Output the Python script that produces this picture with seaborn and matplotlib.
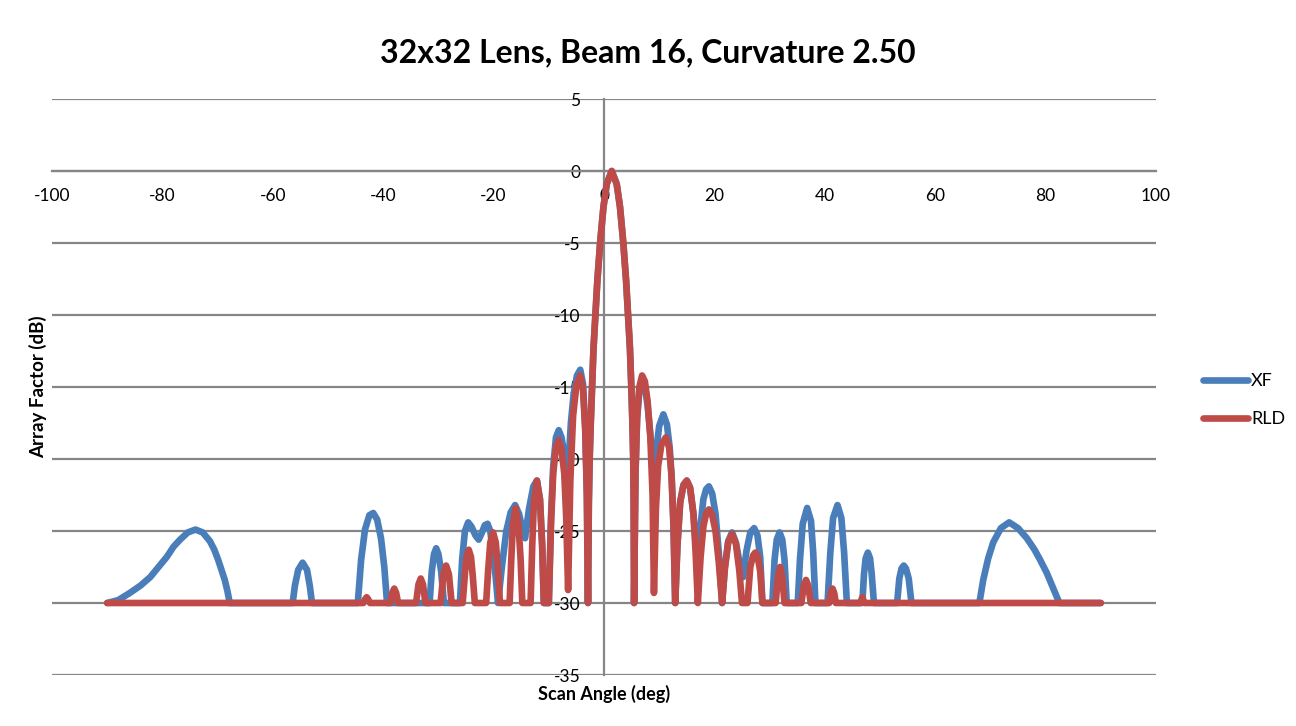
import matplotlib
matplotlib.use("Agg")
import matplotlib.pyplot as plt
import seaborn as sns
import pandas as pd

# ---------------- data ----------------
series_names = ["XF", "RLD"]

xf_angle = [
    -90, -88.0, -85.9, -84.0, -82.2, -80.7, -79.2, -78.0, -76.8, -75.4, -74.0, -72.7, -71.4, -70.6, -69.9, -69.3, -68.7, -68.2, -67.8,
    -56.4, -56.0, -55.4, -54.6, -53.8, -53.3, -52.9,
    -44.6, -44.0, -43.3, -42.5, -41.8, -41.1, -40.4, -39.8, -39.3,
    -31.6, -31.2, -30.8, -30.4, -30.0, -29.5, -29.0,
    -26.1, -25.7, -25.2, -24.6, -24.0, -23.3, -22.7, -22.1, -21.6, -21.1, -20.6, -20.1, -19.6, -19.2,
    -18.5, -17.7, -16.9, -16.1, -15.4, -14.8, -14.3,
    -13.6, -12.8, -12.15, -11.6, -11.2, -10.9,
    -10.0, -9.6, -9.2, -8.7, -8.2, -7.7, -7.2, -6.8, -6.5,
    -6.0, -5.5, -4.9, -4.3, -3.8, -3.4, -3.1, -2.9,
    -2.75, -2.6, -2.4, -2.15, -1.9, -1.55, -1.2, -0.7, -0.1, 0.5, 1.4, 2.3, 2.9, 3.5, 4.0, 4.35, 4.7, 4.95, 5.15, 5.3, 5.38, 5.45,
    5.7, 6.0, 6.4, 6.9, 7.4, 7.9, 8.4, 8.8, 9.1,
    9.5, 10.0, 10.75, 11.4, 11.9, 12.3, 12.6, 12.9,
    13.3, 13.8, 14.4, 15.0, 15.6, 16.2, 16.6, 17.0,
    17.5, 18.0, 18.5, 19.0, 19.6, 20.2, 20.8, 21.4,
    21.9, 22.5, 23.2, 23.9, 24.6, 25.2,
    25.8, 26.5, 27.2, 27.8, 28.3, 28.7,
    30.5, 30.9, 31.3, 31.8, 32.3, 32.7, 33.1,
    35.1, 35.5, 36.0, 36.8, 37.5, 37.9, 38.3,
    40.5, 41.0, 41.5, 42.3, 43.0, 43.5, 44.0,
    46.8, 47.1, 47.4, 47.8, 48.2, 48.5, 48.9,
    53.1, 53.5, 53.9, 54.3, 54.7, 55.2, 55.7,
    68.0, 68.7, 69.6, 70.5, 71.9, 73.4, 75.0, 76.6, 78.0, 79.0, 80.2, 81.3, 82.5,
    90,
]
xf_db = [
    -30, -29.8, -29.3, -28.8, -28.2, -27.5, -26.8, -26.1, -25.6, -25.1, -24.9, -25.1, -25.7, -26.3, -27.0, -27.7, -28.4, -29.2, -30,
    -30, -28.8, -27.7, -27.2, -27.7, -28.8, -30,
    -30, -27.0, -24.9, -23.9, -23.75, -24.2, -25.5, -27.5, -30,
    -30, -27.8, -26.6, -26.2, -26.6, -27.8, -30,
    -30, -27.0, -25.0, -24.4, -24.7, -25.3, -25.6, -25.1, -24.6, -24.5, -25.0, -26.5, -28.3, -30,
    -27.5, -25.0, -23.7, -23.2, -23.8, -24.8, -25.5,
    -23.5, -21.9, -21.5, -22.8, -26.0, -30,
    -30, -24.0, -20.5, -18.5, -18.0, -18.5, -19.6, -20.5, -20.8,
    -17.5, -15.5, -14.2, -13.8, -14.8, -17.8, -22.5, -30,
    -23, -20, -17.5, -15, -12.3, -10, -7.6, -5, -2.5, -0.9, 0, -0.9, -2.5, -5, -7.6, -10, -12.3, -15, -17.5, -20, -23, -30,
    -21.0, -17.2, -15.3, -14.6, -15.0, -16.3, -18.3, -20.2, -21.0,
    -19.3, -17.7, -16.9, -17.6, -19.2, -21.5, -25.0, -30,
    -26.0, -23.0, -21.8, -21.5, -22.0, -23.8, -25.8, -27.3,
    -24.6, -22.8, -22.1, -21.9, -22.4, -23.8, -26.5, -30,
    -27.5, -25.7, -25.1, -25.8, -27.3, -28.2,
    -26.4, -25.1, -24.8, -25.3, -26.8, -30,
    -30, -27.0, -25.6, -25.1, -25.6, -27.0, -30,
    -30, -27.0, -24.5, -23.4, -24.3, -26.5, -30,
    -30, -26.5, -24.1, -23.2, -24.1, -26.5, -30,
    -30, -28.0, -26.9, -26.5, -26.9, -28.0, -30,
    -30, -28.3, -27.6, -27.4, -27.6, -28.3, -30,
    -30, -28.4, -26.9, -25.8, -24.8, -24.4, -24.8, -25.5, -26.3, -27.0, -27.9, -28.9, -30,
    -30,
]

rld_angle = [
    -90,
    -43.6, -43.3, -43.0, -42.7, -42.4,
    -38.7, -38.35, -38.0, -37.65, -37.3,
    -34.05, -33.6, -33.2, -32.8, -32.35,
    -29.6, -29.1, -28.6, -28.1, -27.6,
    -25.6, -25.2, -24.9, -24.5, -24.1, -23.8, -23.4,
    -21.35, -21.0, -20.6, -20.1, -19.6, -19.2, -18.85,
    -17.1, -16.8, -16.5, -16.0, -15.5, -15.1, -14.8,
    -13.3, -13.0, -12.7, -12.15, -11.6, -11.2, -10.9,
    -10.0, -9.6, -9.2, -8.7, -8.2, -7.7, -7.2, -6.85, -6.5,
    -6.1, -5.6, -5.0, -4.3, -3.8, -3.4, -3.1, -2.9,
    -2.75, -2.6, -2.4, -2.15, -1.9, -1.55, -1.2, -0.7, -0.1, 0.5, 1.4, 2.3, 2.9, 3.5, 4.0, 4.35, 4.7, 4.95, 5.15, 5.3, 5.38, 5.45,
    5.7, 6.0, 6.4, 6.9, 7.4, 7.9, 8.4, 8.8, 9.05,
    9.4, 9.8, 10.4, 11.2, 11.8, 12.2, 12.6, 12.9,
    13.3, 13.8, 14.4, 15.0, 15.6, 16.2, 16.6, 17.0,
    17.5, 18.0, 18.5, 19.0, 19.6, 20.2, 20.8, 21.4,
    21.9, 22.5, 23.2, 23.9, 24.5, 25.0,
    26.0, 26.5, 27.0, 27.4, 27.8, 28.3, 28.7,
    31.1, 31.5, 31.9, 32.3, 32.7,
    35.75, 36.2, 36.6, 37.0, 37.45,
    40.8, 41.1, 41.4, 41.7, 42.0,
    46.4, 46.8, 47.2,
    90,
]
rld_db = [
    -30,
    -30, -29.75, -29.6, -29.75, -30,
    -30, -29.3, -29.0, -29.3, -30,
    -30, -28.7, -28.3, -28.7, -30,
    -30, -28.0, -27.4, -28.0, -30,
    -30, -28.0, -26.8, -26.3, -26.8, -28.0, -30,
    -30, -27.8, -25.8, -25.1, -25.8, -27.8, -30,
    -30, -27.0, -24.5, -23.4, -24.5, -27.0, -30,
    -30, -26.0, -23.0, -21.5, -22.8, -26.0, -30,
    -30, -24.5, -21.0, -19.2, -18.7, -19.3, -21.0, -24.0, -29.1,
    -21.5, -17.0, -14.9, -14.2, -15.2, -18.0, -22.5, -30,
    -23, -20, -17.5, -15, -12.3, -10, -7.6, -5, -2.5, -0.9, 0, -0.9, -2.5, -5, -7.6, -10, -12.3, -15, -17.5, -20, -23, -30,
    -21.0, -17.0, -15.0, -14.2, -14.6, -16.0, -18.5, -22.5, -29.3,
    -23.5, -20.5, -19.0, -18.5, -19.2, -21.0, -24.5, -30,
    -26.0, -23.0, -21.8, -21.5, -22.0, -23.8, -26.5, -30,
    -26.8, -24.7, -23.8, -23.5, -23.9, -25.0, -27.2, -30,
    -27.6, -25.8, -25.2, -25.9, -27.7, -30,
    -30, -27.5, -26.7, -26.5, -26.7, -27.8, -30,
    -30, -28.2, -27.5, -28.2, -30,
    -30, -28.8, -28.4, -28.8, -30,
    -30, -29.3, -29.0, -29.3, -30,
    -30, -29.6, -30,
    -30,
]

x_ticks = [-100, -80, -60, -40, -20, 0, 20, 40, 60, 80, 100]
y_ticks = [-35, -30, -25, -20, -15, -10, -5, 0, 5]

title_text = "32x32 Lens, Beam 16, Curvature 2.50"
x_label = "Scan Angle (deg)"
y_label = "Array Factor (dB)"

# ---------------- styling ----------------
sns.set_theme(style="white")
plt.rcParams['font.family'] = ['Lato', 'DejaVu Sans']
plt.rcParams['text.color'] = 'black'

colors = ["#4A7EBB", "#BE4B48"]
grid_color = "#868686"

W, H = 1296, 726
fig = plt.figure(figsize=(W / 100, H / 100), dpi=100)
ax = fig.add_axes([52 / W, 1 - 675 / H, (1156 - 52) / W, (675 - 99) / H])

df = pd.concat([
    pd.DataFrame({"angle": xf_angle, "db": xf_db, "series": series_names[0]}),
    pd.DataFrame({"angle": rld_angle, "db": rld_db, "series": series_names[1]}),
], ignore_index=True)

sns.lineplot(data=df, x="angle", y="db", hue="series", hue_order=series_names,
             palette=colors, estimator=None, sort=False, linewidth=4.8,
             ax=ax, legend=False)
for ln in ax.lines:
    ln.set_solid_capstyle("round")
    ln.set_solid_joinstyle("round")
    ln.set_zorder(3)

ax.set_xlim(-100, 100)
ax.set_ylim(-35, 5)
ax.set_xticks(x_ticks)
ax.set_yticks(y_ticks)
ax.set_xticklabels([str(v) for v in x_ticks])
ax.set_yticklabels([str(v) for v in y_ticks])
ax.yaxis.grid(True, color=grid_color, linewidth=1.6)
ax.xaxis.grid(False)
ax.set_axisbelow(True)

for s in ["top", "right"]:
    ax.spines[s].set_visible(False)
ax.spines["left"].set_position(("data", 0))
ax.spines["left"].set_color(grid_color)
ax.spines["left"].set_linewidth(1.6)
ax.spines["bottom"].set_position(("data", 0))
ax.spines["bottom"].set_color(grid_color)
ax.spines["bottom"].set_linewidth(1.6)

ax.tick_params(axis="x", length=0, pad=12, labelsize=12.5, colors="black")
ax.tick_params(axis="y", length=0, pad=17, labelsize=12.5, colors="black")
ax.set_xlabel("")
ax.set_ylabel("")

fig.text(648 / W, 1 - 53 / H, title_text, ha="center", va="center",
         fontsize=23, fontweight="bold", color="black")
fig.text(604 / W, 1 - 685 / H, x_label, ha="center", va="top",
         fontsize=13, fontweight="bold", color="black")
fig.text(38 / W, 1 - 387 / H, y_label, ha="center", va="center",
         rotation=90, fontsize=13.5, fontweight="bold", color="black")

fig.legend(handles=ax.lines[:2], labels=series_names, loc="center left",
           bbox_to_anchor=(1187 / W, 1 - 400 / H), frameon=False,
           handlelength=2.5, handletextpad=0.15, fontsize=13,
           labelspacing=1.2, labelcolor="black")

fig.savefig("out.png", dpi=100)
